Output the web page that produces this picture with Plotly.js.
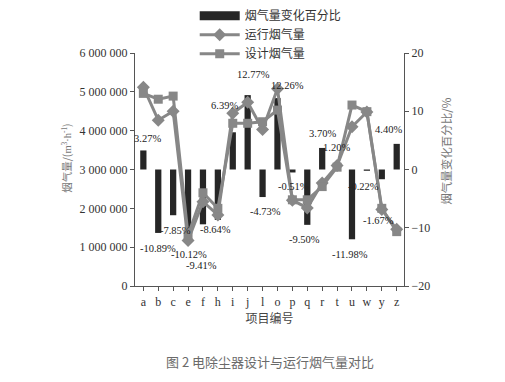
<!DOCTYPE html>
<html><head><meta charset="utf-8">
<script src="https://cdn.plot.ly/plotly-3.0.1.min.js"></script>
<style>html,body{margin:0;padding:0;background:#fff}#c{width:505px;height:382px}</style>
</head><body><div id="c"></div>
<script>
const categories = ['a','b','c','e','f','h','i','j','l','o','p','q','r','t','u','w','y','z'];
const changePct = [3.27,-10.89,-7.85,-10.12,-9.41,-8.64,6.39,12.77,-4.73,12.26,-0.51,-9.50,3.70,1.20,-11.98,-0.22,-1.67,4.40];
const runFlow = [5120000,4270000,4500000,1170000,2170000,1830000,4450000,4730000,4030000,5080000,2210000,2010000,2650000,3100000,4100000,4480000,1970000,1460000];
const designFlow = [4960000,4810000,4890000,1310000,2400000,2000000,4190000,4190000,4230000,4530000,2220000,2220000,2560000,3060000,4660000,4490000,2000000,1400000];
const names = ['烟气量变化百分比','运行烟气量','设计烟气量'];
const leftTitle = '烟气量/(<span style="font-family:Liberation Serif">m<sup>3</sup>·h<sup>-1</sup></span>)';
const rightTitle = '烟气量变化百分比/%';
const xTitle = '项目编号';
const caption = '图 2 电除尘器设计与运行烟气量对比';

// label nudges (layout only)
const labDy = [12,-16,-15,-26,-41,-10,27,21,-14,13,-14,-15,14,15,-15,-16,-41,14];
const labDx = [4,0,2,1,-1,-2,-8,6,3,10,1,-3,0,-1,-2,-3,-3,-8];

const gray = '#878787';
const serif = 'Liberation Serif, Times New Roman, serif';
const cjk = 'Noto Sans CJK SC, sans-serif';

const traces = [
  {type:'scatter', mode:'lines', x:[null], y:[null], name:names[0], yaxis:'y2',
   line:{color:'#262626', width:9}, hoverinfo:'skip'},
  {type:'bar', x:categories, y:changePct, name:names[0], showlegend:false,
   marker:{color:'#262626'}, width:0.42, yaxis:'y'},
  {type:'scatter', mode:'lines+markers', x:categories, y:runFlow, name:names[1], yaxis:'y2',
   line:{color:gray, width:3}, marker:{symbol:'diamond', size:10, color:gray}},
  {type:'scatter', mode:'lines+markers', x:categories, y:designFlow, name:names[2], yaxis:'y2',
   line:{color:gray, width:3}, marker:{symbol:'square', size:9, color:gray}}
];

const annotations = categories.map((c,i)=>({
  x:c, y:changePct[i], xref:'x', yref:'y', text:changePct[i].toFixed(2)+'%',
  showarrow:false, xanchor:'center', yanchor:'middle',
  xshift:labDx[i], yshift:labDy[i],
  font:{family:serif, size:10.5, color:'#222'}
}));
annotations.push({
  text:caption, xref:'paper', yref:'paper', x:0.5, y:-0.326,
  showarrow:false, xanchor:'center', yanchor:'middle',
  font:{family:cjk, size:13, color:'#6a6a6a'}
});
annotations.push({
  text:leftTitle, xref:'paper', yref:'paper', x:-0.253, y:0.55, textangle:-90,
  showarrow:false, xanchor:'center', yanchor:'middle',
  font:{family:cjk, size:10.5, color:'#777'}
});
annotations.push({
  text:rightTitle, xref:'paper', yref:'paper', x:1.156, y:0.58, textangle:-90,
  showarrow:false, xanchor:'center', yanchor:'middle',
  font:{family:cjk, size:11.5, color:'#777'}
});

const layout = {
  width:505, height:382,
  margin:{l:135, r:101, t:53, b:96, autoexpand:false},
  paper_bgcolor:'#fff', plot_bgcolor:'#fff',
  separators:'. ',
  showlegend:true,
  legend:{x:0.222, y:1.222, xanchor:'left', yanchor:'top',
    font:{family:cjk, size:12, color:'#333'}, itemwidth:40, tracegroupgap:0,
    bgcolor:'rgba(0,0,0,0)'},
  xaxis:{type:'category', range:[-0.56,17.49], showline:true, linecolor:'#555', linewidth:1.2,
    ticks:'outside', ticklen:4, tickcolor:'#555', showgrid:false, zeroline:false, automargin:false,
    tickfont:{family:serif, size:12, color:'#333'},
    title:{text:xTitle, font:{family:cjk, size:12, color:'#444'}, standoff:6}},
  yaxis:{side:'right', range:[-20,20], dtick:10, showline:true, linecolor:'#555', linewidth:1.2,
    ticks:'outside', ticklen:4, tickcolor:'#555', showgrid:false, zeroline:false, automargin:false,
    tickfont:{family:serif, size:12, color:'#333'}},
  yaxis2:{overlaying:'y', side:'left', range:[0,6000000], dtick:1000000, tickformat:',d',
    showline:true, linecolor:'#555', linewidth:1.2, automargin:false,
    ticks:'outside', ticklen:4, tickcolor:'#555', showgrid:false, zeroline:false,
    tickfont:{family:serif, size:12, color:'#333'}},
  annotations:annotations
};

Plotly.newPlot('c', traces, layout, {displayModeBar:false, staticPlot:true});
</script></body></html>
